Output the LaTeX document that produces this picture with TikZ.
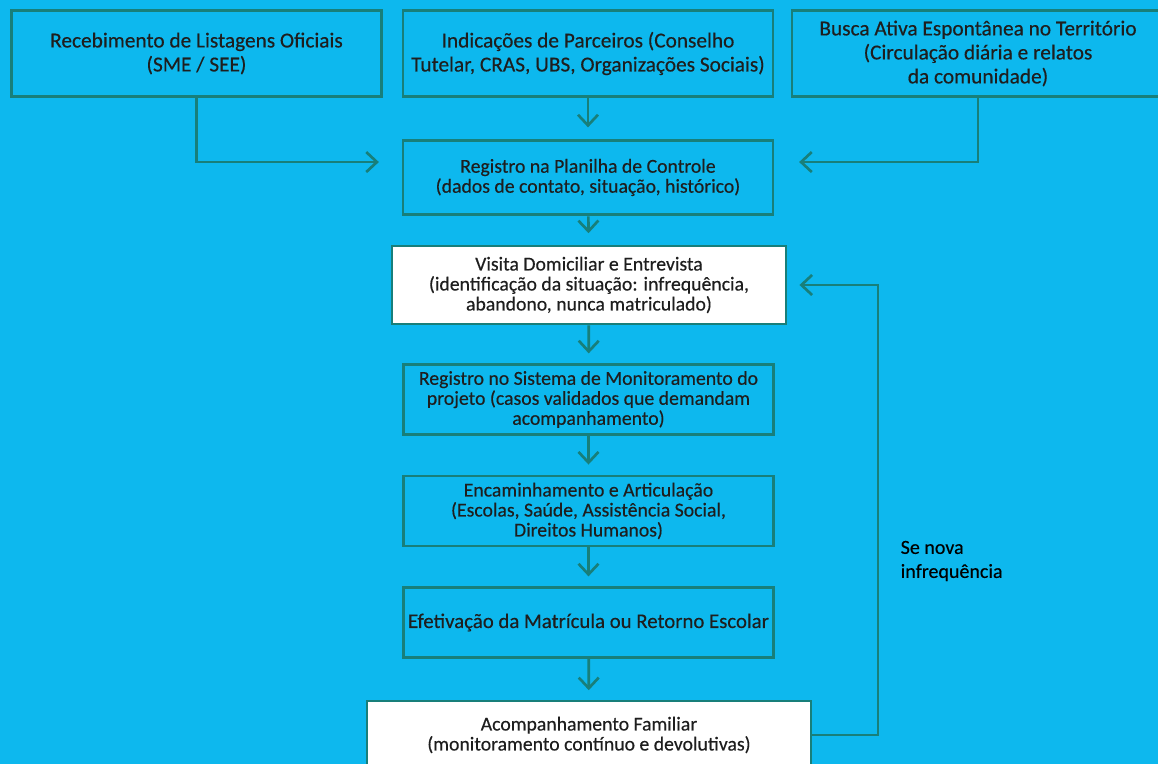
\documentclass[tikz,border=0pt]{standalone}
\usepackage{fontspec}
\setmainfont{Carlito}[FakeBold=0.35]
\usetikzlibrary{arrows.meta}
\definecolor{fundo}{HTML}{0DB8EE}
\definecolor{borda}{HTML}{187F7A}
\definecolor{texto}{HTML}{1E1E1E}
\tikzset{caixa/.style={draw=borda,line width=2.2pt,rectangle,align=center,
		text=texto,inner sep=1pt,font=\fontsize{14.8}{15}\selectfont},
	topo/.style={font=\fontsize{16}{18}\selectfont,minimum height=65pt},
	branca/.style={fill=white},
	seta/.style={draw=borda,line width=2pt,line join=miter},
	rotulo/.style={align=left,text=black,font=\fontsize{15}{18}\selectfont}}

\begin{document}
\begin{tikzpicture}[x=0.75pt,y=-0.75pt]
		\useasboundingbox (0,0) rectangle (1158,764);
		\fill[fundo] (0,0) rectangle (1158,764);
		\clip (0,0) rectangle (1158,764);
		% fontes de entrada
		\begin{scope}[every node/.style={caixa,topo}]
			\node[minimum width=278pt] (rec) at (196.5,53.5) {Recebimento de Listagens Oficiais\\(SME / SEE)};
			\node[minimum width=277.5pt] (ind) at (588,53.5) {Indicações de Parceiros (Conselho\\Tutelar, CRAS, UBS, Organizações Sociais)};
			\node[minimum width=279pt] (busca) at (978,53.5) {Busca Ativa Espontânea no Território\\(Circulação diária e relatos\\da comunidade)};
		\end{scope}
		% fluxo principal
		\begin{scope}[every node/.style={caixa}]
			\node[minimum width=277.5pt,minimum height=56pt] (plan) at (588,177.5) {Registro na Planilha de Controle\\(dados de contato, situação, histórico)};
			\node[branca,minimum width=295.5pt,minimum height=58.5pt] (visita) at (589,285) {Visita Domiciliar e Entrevista\\(identificação da situação: infrequência,\\abandono, nunca matriculado)};
			\node[minimum width=278pt,minimum height=52pt] (sist) at (588.5,399.5) {Registro no Sistema de Monitoramento do\\projeto (casos validados que demandam\\acompanhamento)};
			\node[minimum width=278pt,minimum height=52.5pt] (enc) at (588.5,511) {Encaminhamento e Articulação\\(Escolas, Saúde, Assistência Social,\\Direitos Humanos)};
			\node[minimum width=278pt,minimum height=52pt,font=\fontsize{15.6}{18}\selectfont] (efet) at (588.5,622.5) {Efetivação da Matrícula ou Retorno Escolar};
			\node[branca,minimum width=333pt,minimum height=51pt] (acomp) at (589,735) {Acompanhamento Familiar\\(monitoramento contínuo e devolutivas)};
		\end{scope}
		\node[rotulo,anchor=west] (nota) at (896,561) {Se nova\\infrequência};
		\coordinate (volta) at (878,735);
		\begin{scope}[>={Straight Barb[length=8pt,width=15pt]},
			every path/.style={seta}]
			\draw[->,shorten >=17pt] (rec.south) |- ([yshift=11.6pt]plan.west);
			\draw[->,shorten >=18.5pt] (busca.south) |- ([yshift=11.6pt]plan.east);
			\draw[->,shorten >=8.5pt] (ind) -- (plan);
			\draw[->,shorten >=8.5pt] (plan) -- (visita);
			\draw[->,shorten >=7.5pt] (visita) -- (sist);
			\draw[->,shorten >=7.5pt] (sist) -- (enc);
			\draw[->,shorten >=7.5pt] (enc) -- (efet);
			\draw[->,shorten >=7pt] (efet) -- (acomp);
			\draw[->,shorten >=9pt] (acomp.east) -- (volta) |- (visita.east);
		\end{scope}
	\end{tikzpicture}
\end{document}
